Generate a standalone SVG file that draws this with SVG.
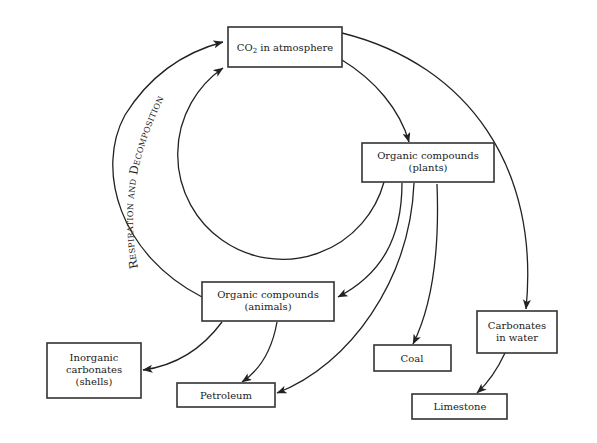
<svg xmlns="http://www.w3.org/2000/svg" width="597" height="443" viewBox="0 0 597 443">
<style>
.box{fill:#fff;stroke:#333;stroke-width:1.6}
.lbl{font-family:"DejaVu Serif","Liberation Serif",serif;font-size:10px;fill:#222;text-anchor:middle}
.con{fill:none;stroke:#222;stroke-width:1.3;marker-end:url(#ah)}
.sc{font-family:"DejaVu Serif","Liberation Serif",serif;font-size:11.5px;font-variant:small-caps;letter-spacing:0.3px;fill:#222}
</style>
<defs>
<marker id="ah" viewBox="0 0 10 8" refX="9.5" refY="4" markerWidth="10" markerHeight="8" markerUnits="userSpaceOnUse" orient="auto">
<path d="M0,0 L10,4 L0,8 L2.5,4 Z" fill="#222"/>
</marker>
<path id="tp" d="M138,268 Q120,182 166,94"/>
</defs>
<rect width="597" height="443" fill="#fff"/>
<g id="connectors">
<path class="con" d="M342,60 C375,80 400,110 409,142"/>
<path class="con" d="M342,33 C470,65 540,170 526,309"/>
<path class="con" d="M202,297 C120,255 95,170 125,115 C150,75 185,52 223,42"/>
<path class="con" d="M384,182 A105,105 0 1 1 223,68"/>
<path class="con" d="M402,183 C402,240 380,275 338,297"/>
<path class="con" d="M414,183 C410,280 350,365 277,393"/>
<path class="con" d="M437,184 C440,260 430,310 413,344"/>
<path class="con" d="M222,322 C205,345 180,365 143,370"/>
<path class="con" d="M277,322 C272,350 260,370 242,382"/>
<path class="con" d="M505,353 C497,370 488,383 477,393"/>
<text class="sc"><textPath href="#tp">Respiration and Decomposition</textPath></text>
</g>
<g id="co2"><rect class="box" x="228" y="27" width="114" height="40"/><text class="lbl" x="285" y="51">CO<tspan font-size="7" dy="2">2</tspan><tspan dy="-2"> in atmosphere</tspan></text></g>
<g id="plants"><rect class="box" x="362" y="143" width="132" height="39"/><text class="lbl" x="428" y="159">Organic compounds</text><text class="lbl" x="428" y="171">(plants)</text></g>
<g id="animals"><rect class="box" x="202" y="282" width="132" height="39"/><text class="lbl" x="268" y="298">Organic compounds</text><text class="lbl" x="268" y="310">(animals)</text></g>
<g id="inorganic"><rect class="box" x="47" y="343" width="94" height="55"/><text class="lbl" x="94" y="361">Inorganic</text><text class="lbl" x="94" y="373">carbonates</text><text class="lbl" x="94" y="385">(shells)</text></g>
<g id="petroleum"><rect class="box" x="177" y="383" width="98" height="24"/><text class="lbl" x="226" y="399">Petroleum</text></g>
<g id="coal"><rect class="box" x="374" y="345" width="77" height="26"/><text class="lbl" x="412" y="362">Coal</text></g>
<g id="carbonates"><rect class="box" x="477" y="311" width="80" height="42"/><text class="lbl" x="517" y="329">Carbonates</text><text class="lbl" x="517" y="341">in water</text></g>
<g id="limestone"><rect class="box" x="412" y="394" width="95" height="25"/><text class="lbl" x="460" y="410">Limestone</text></g>
</svg>
